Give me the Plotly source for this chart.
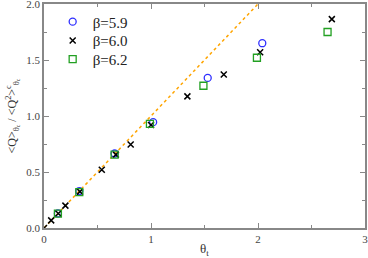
import plotly.graph_objects as go

# beta = 5.9
x59 = [0.13, 0.33, 0.66, 1.02, 1.53, 2.04]
y59 = [0.13, 0.33, 0.665, 0.945, 1.34, 1.65]
# beta = 6.0
x60 = [0.0, 0.067, 0.134, 0.20, 0.336, 0.54, 0.672, 0.81, 1.0, 1.34, 1.68, 2.02, 2.69]
y60 = [0.0, 0.068, 0.13, 0.20, 0.325, 0.52, 0.655, 0.745, 0.92, 1.175, 1.37, 1.57, 1.865]
# beta = 6.2
x62 = [0.13, 0.33, 0.66, 0.99, 1.49, 1.99, 2.65]
y62 = [0.128, 0.32, 0.655, 0.93, 1.27, 1.52, 1.75]
# reference line y = x
xline = [0.0, 2.0]
yline = [0.0, 2.0]

serif = "'Liberation Serif', 'Times New Roman', serif"
fig = go.Figure()
fig.add_trace(go.Scatter(x=xline, y=yline, mode="lines",
                         line=dict(color="#FFA500", width=1.5, dash="dot"),
                         showlegend=False, hoverinfo="skip"))
fig.add_trace(go.Scatter(x=x59, y=y59, mode="markers", name="β=5.9", legend="legend",
                         marker=dict(symbol="circle-open", size=7, color="#2f2fff",
                                     line=dict(width=1.3))))
fig.add_trace(go.Scatter(x=x60, y=y60, mode="markers", name="β=6.0", legend="legend2",
                         marker=dict(symbol="x-thin-open", size=6, color="black",
                                     line=dict(width=1.5, color="black"))))
fig.add_trace(go.Scatter(x=x62, y=y62, mode="markers", name="β=6.2", legend="legend3",
                         marker=dict(symbol="square-open", size=7, color="#22a022",
                                     line=dict(width=1.3))))

axis_common = dict(showgrid=False, zeroline=False, showline=True, automargin=False,
                   linecolor="#888888", linewidth=1.5, mirror="allticks",
                   ticks="inside", ticklen=5, tickcolor="#888888", tickwidth=1,
                   ticklabeloverflow="allow",
                   tickfont=dict(family=serif, size=11, color="#444444"))
fig.update_xaxes(range=[0, 3], dtick=1, tick0=0,
                 minor=dict(dtick=0.5, ticks="inside", ticklen=3, tickcolor="#888888"),
                 title=dict(text="θ<sub>t</sub>", font=dict(family=serif, size=13, color="#333333"),
                            standoff=3),
                 **axis_common)
fig.update_yaxes(range=[0, 2], dtick=0.5, tick0=0, tickformat=".1f",
                 minor=dict(dtick=0.25, ticks="inside", ticklen=3, tickcolor="#888888"),
                 title=dict(text="&lt;Q&gt;<sub>θ<sub>c</sub></sub> / &lt;Q<sup>2</sup>&gt;<sup>c</sup><sub>θ<sub>c</sub></sub>",
                            font=dict(family=serif, size=12, color="#333333"), standoff=7),
                 **axis_common)

leg_common = dict(x=0.027, xanchor="left", yanchor="middle",
                  font=dict(family=serif, size=15, color="#222222"),
                  bgcolor="rgba(0,0,0,0)", itemwidth=30)
fig.update_layout(width=368, height=258,
                  margin=dict(l=44, r=3, t=4, b=30),
                  paper_bgcolor="white", plot_bgcolor="white",
                  font=dict(family=serif),
                  legend=dict(y=0.92, **leg_common),
                  legend2=dict(y=0.836, **leg_common),
                  legend3=dict(y=0.753, **leg_common))
fig.write_html("out.html", post_script="document.body.style.margin='0';",
               config={"displayModeBar": False})
